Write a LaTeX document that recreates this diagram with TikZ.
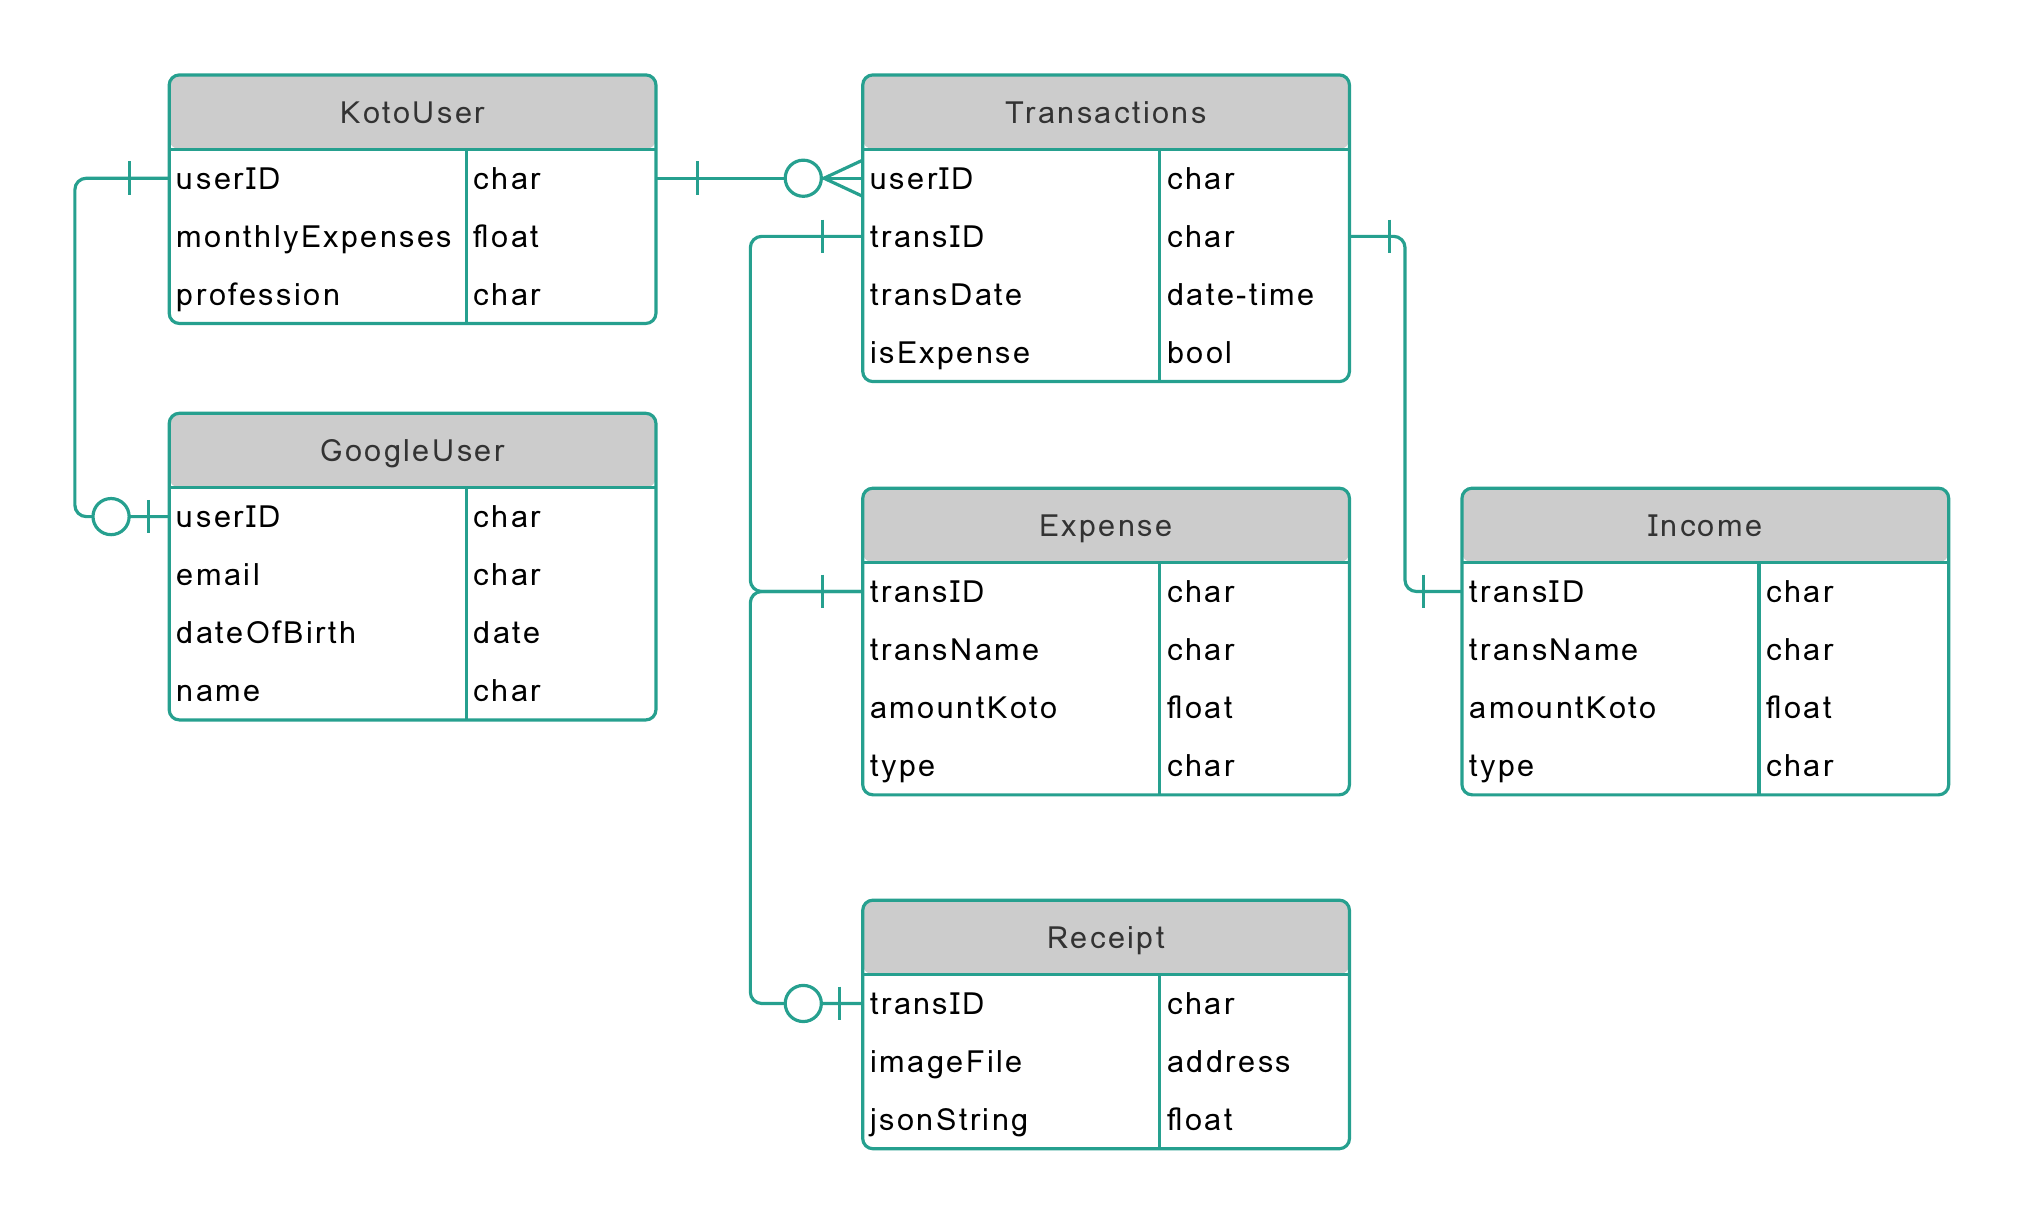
\documentclass[tikz,border=0pt]{standalone}
\usepackage{fontspec}
\setmainfont{Loma}[LetterSpace=8]
\definecolor{erteal}{RGB}{38,160,143}
\definecolor{hdrgray}{RGB}{204,204,204}
\definecolor{hdrtext}{RGB}{51,51,51}

\begin{document}
\begin{tikzpicture}[x=0.02cm, y=-0.02cm,
		erline/.style={draw=erteal, line width=1.4pt},
		rel/.style={erline, rounded corners=5pt},
		tbl/.style={erline, rounded corners=4.5pt, anchor=north west, inner sep=0pt, outer sep=0pt, minimum width=7.54cm,
			path picture={\fill[hdrgray] (path picture bounding box.north west) rectangle ([yshift=-1.15cm]path picture bounding box.north east);}},
		title/.style={text=hdrtext, inner sep=0pt, text height=9.5pt, text depth=0pt, font=\fontsize{13.5}{16}\selectfont},
		fld/.style={anchor=west, inner xsep=3.4pt, inner ysep=0pt, outer sep=0pt, text height=9.5pt, text depth=0pt, font=\fontsize{13.5}{16}\selectfont}]
		\useasboundingbox (0,0) rectangle (1568,948);
		
		% KotoUser
		\node[tbl, minimum height=3.85cm] (ku) at (131,58) {};
		\node[title] (ku-h) at (319.5,87) {KotoUser};
		\draw[erline] (131,115.5) -- (508,115.5) (361,115.5) -- (361,250.5);
		\foreach \f/\t [count=\i] in {userID/char, monthlyExpenses/float, profession/char}
		{
			\node[fld] (ku-\i) at (131,93+45*\i) {\f};
			\node[fld] (ku-t\i) at (361,93+45*\i) {\t};
		}
		
		% Transactions
		\node[tbl, minimum height=4.75cm] (tr) at (668,58) {};
		\node[title] (tr-h) at (856.5,87) {Transactions};
		\draw[erline] (668,115.5) -- (1045,115.5) (898,115.5) -- (898,295.5);
		\foreach \f/\t [count=\i] in {userID/char, transID/char, transDate/date-time, isExpense/bool}
		{
			\node[fld] (tr-\i) at (668,93+45*\i) {\f};
			\node[fld] (tr-t\i) at (898,93+45*\i) {\t};
		}
		
		% GoogleUser
		\node[tbl, minimum height=4.75cm] (gu) at (131,320) {};
		\node[title] (gu-h) at (319.5,349) {GoogleUser};
		\draw[erline] (131,377.5) -- (508,377.5) (361,377.5) -- (361,557.5);
		\foreach \f/\t [count=\i] in {userID/char, email/char, dateOfBirth/date, name/char}
		{
			\node[fld] (gu-\i) at (131,355+45*\i) {\f};
			\node[fld] (gu-t\i) at (361,355+45*\i) {\t};
		}
		
		% Expense
		\node[tbl, minimum height=4.75cm] (ex) at (668,378) {};
		\node[title] (ex-h) at (856.5,407) {Expense};
		\draw[erline] (668,435.5) -- (1045,435.5) (898,435.5) -- (898,615.5);
		\foreach \f/\t [count=\i] in {transID/char, transName/char, amountKoto/float, type/char}
		{
			\node[fld] (ex-\i) at (668,413+45*\i) {\f};
			\node[fld] (ex-t\i) at (898,413+45*\i) {\t};
		}
		
		% Income
		\node[tbl, minimum height=4.75cm] (in) at (1132,378) {};
		\node[title] (in-h) at (1320.5,407) {Income};
		\draw[erline] (1132,435.5) -- (1509,435.5) (1362,435.5) -- (1362,615.5);
		\foreach \f/\t [count=\i] in {transID/char, transName/char, amountKoto/float, type/char}
		{
			\node[fld] (in-\i) at (1132,413+45*\i) {\f};
			\node[fld] (in-t\i) at (1362,413+45*\i) {\t};
		}
		
		% Receipt
		\node[tbl, minimum height=3.85cm] (re) at (668,697) {};
		\node[title] (re-h) at (856.5,726) {Receipt};
		\draw[erline] (668,754.5) -- (1045,754.5) (898,754.5) -- (898,889.5);
		\foreach \f/\t [count=\i] in {transID/char, imageFile/address, jsonString/float}
		{
			\node[fld] (re-\i) at (668,732+45*\i) {\f};
			\node[fld] (re-t\i) at (898,732+45*\i) {\t};
		}
		
		% KotoUser -- Transactions
		\draw[rel] (ku.east |- ku-1) -- (tr-1.west);
		\draw[erline] (ku.east |- ku-1) ++(32,-13) -- ++(0,26);
		\draw[erline, fill=white] (tr-1.west) ++(-46,0) circle (0.28cm);
		\draw[erline] (tr-1.west) ++(0,-14) -- ++(-30,14) -- ++(30,14);
		
		% KotoUser -- GoogleUser
		\draw[rel] (ku-1.west) -- ++(-73,0) |- (gu-1.west);
		\draw[erline] (ku-1.west) ++(-31,-13) -- ++(0,26);
		\draw[erline] (gu-1.west) ++(-16,-13) -- ++(0,26);
		\draw[erline, fill=white] (gu-1.west) ++(-45,0) circle (0.28cm);
		
		% Transactions -- Expense
		\draw[rel] (tr-2.west) -- ++(-87,0) |- (ex-1.west);
		\draw[erline] (tr-2.west) ++(-31,-13) -- ++(0,26);
		\draw[erline] (ex-1.west) ++(-31,-13) -- ++(0,26);
		
		% Expense -- Receipt
		\draw[rel] (ex-1.west) -- ++(-87,0) |- (re-1.west);
		\draw[erline] (re-1.west) ++(-18,-13) -- ++(0,26);
		\draw[erline, fill=white] (re-1.west) ++(-46,0) circle (0.28cm);
		
		% Transactions -- Income
		\draw[rel] (tr.east |- tr-2) -- ++(43,0) |- (in-1.west);
		\draw[erline] (tr.east |- tr-2) ++(31,-13) -- ++(0,26);
		\draw[erline] (in-1.west) ++(-30,-13) -- ++(0,26);
		
	\end{tikzpicture}
\end{document}
